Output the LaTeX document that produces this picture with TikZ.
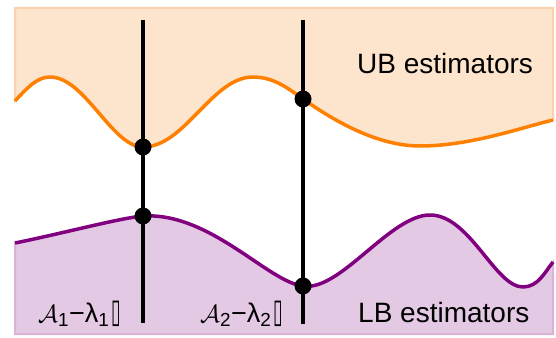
\documentclass[tikz,border=0pt]{standalone}
\usepackage{fontspec}
\usepackage{graphicx}
\setmainfont{Liberation Sans}
\newfontfamily\dejavu{DejaVu Sans}
\definecolor{ubfill}{HTML}{FDE4CC}
\definecolor{ubedge}{HTML}{FAD3AE}
\definecolor{ubline}{HTML}{FF8000}
\definecolor{lbfill}{HTML}{E3C9E3}
\definecolor{lbedge}{HTML}{D8B4D8}
\definecolor{lbline}{HTML}{800080}
\newcommand{\calA}{{\fontsize{35}{36}\selectfont$\mathcal{A}$}}
\newcommand{\missbox}{\hspace{2pt}\scalebox{0.6}[1.15]{\dejavu\fontsize{29}{30}\selectfont ▯}}
\begin{document}
\begin{tikzpicture}[x=1pt,y=-1pt,
  curve/.style={line width=3.5pt,line join=round},
  vline/.style={line width=3.6pt,black},
  dot/.style={circle,fill=black,inner sep=0pt,minimum size=17pt},
  bigtext/.style={font=\fontsize{28}{32}\selectfont,inner sep=0pt,anchor=base west},
  lbl/.style={font=\fontsize{27}{30}\selectfont,inner sep=0pt,anchor=base west}]
\useasboundingbox (0,0) rectangle (556,337);
% upper region
\fill[ubfill,draw=ubedge,line width=2pt]
  (15,101) -- (15,8) -- (553,8) -- (553,120)
  .. controls (520,128) and (470,146) .. (420,146)
  .. controls (375,146) and (330,118) .. (303,99)
  .. controls (290,90) and (275,77) .. (253,77)
  .. controls (212,77) and (185,147) .. (143,147)
  .. controls (112,147) and (85,77) .. (50,77)
  .. controls (37,77) and (27,88) .. (15,101) -- cycle;
% lower region
\fill[lbfill,draw=lbedge,line width=2pt]
  (15,243) .. controls (60,234) and (120,218) .. (143,216)
  .. controls (210,212) and (268,282) .. (303,286)
  .. controls (340,292) and (390,215) .. (430,215)
  .. controls (470,215) and (495,287) .. (523,287)
  .. controls (538,287) and (545,272) .. (553,262)
  -- (553,334) -- (15,334) -- cycle;
% curves
\draw[curve,ubline]
  (15,101) .. controls (27,88) and (37,77) .. (50,77)
  .. controls (85,77) and (112,147) .. (143,147)
  .. controls (185,147) and (212,77) .. (253,77)
  .. controls (275,77) and (290,90) .. (303,99)
  .. controls (330,118) and (375,146) .. (420,146)
  .. controls (470,146) and (520,128) .. (553,120);
\draw[curve,lbline]
  (15,243) .. controls (60,234) and (120,218) .. (143,216)
  .. controls (210,212) and (268,282) .. (303,286)
  .. controls (340,292) and (390,215) .. (430,215)
  .. controls (470,215) and (495,287) .. (523,287)
  .. controls (538,287) and (545,272) .. (553,262);
% vertical lines
\coordinate (t1) at (143,20);
\coordinate (b1) at (143,323);
\coordinate (t2) at (303,20);
\coordinate (b2) at (303,324);
\draw[vline] (t1) -- (b1);
\draw[vline] (t2) -- (b2);
% dots
\node[dot] (u1) at (143,147) {};
\node[dot] (l1) at (143,216) {};
\node[dot] (u2) at (303,99) {};
\node[dot] (l2) at (303,286) {};
% texts
\node[bigtext] (ub) at (357,74) {UB estimators};
\node[bigtext] (lb) at (358,322) {LB estimators};
\node[lbl] (a1) at (38,322) {\calA\textsubscript{1}−λ\textsubscript{1}\missbox};
\node[lbl] (a2) at (200,322) {\calA\textsubscript{2}−λ\textsubscript{2}\missbox};
\end{tikzpicture}
\end{document}
